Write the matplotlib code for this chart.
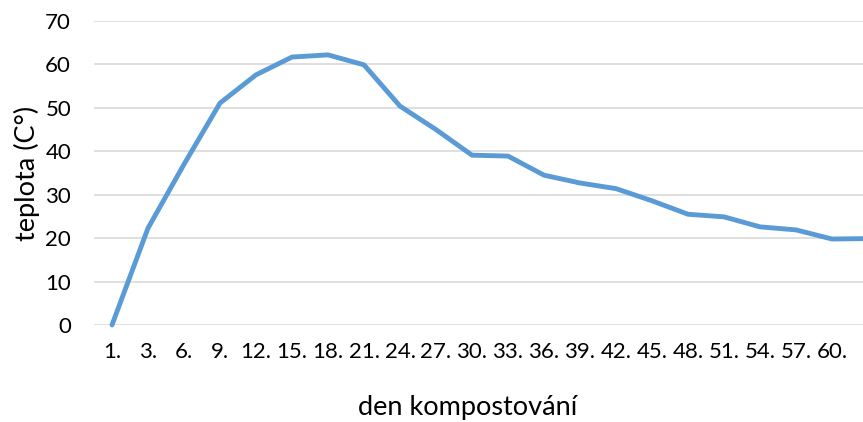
import matplotlib
import matplotlib.pyplot as plt

matplotlib.use("Agg")

# den kompostování (63. je v obrázku oříznutý, popisek se nevejde)
days = ["1.", "3.", "6.", "9.", "12.", "15.", "18.", "21.", "24.", "27.", "30.",
        "33.", "36.", "39.", "42.", "45.", "48.", "51.", "54.", "57.", "60.", ""]
temps = [0, 22.3, 37, 51.1, 57.6, 61.7, 62.2, 59.9, 50.4, 45, 39.1,
         38.9, 34.5, 32.7, 31.4, 28.6, 25.5, 24.9, 22.6, 21.9, 19.8, 19.9]
y_ticks = [0, 10, 20, 30, 40, 50, 60, 70]

plt.rcParams["font.family"] = ["Lato", "DejaVu Sans"]
fig = plt.figure(figsize=(8.63, 4.22), dpi=100)
W, H = 863, 422
ax = fig.add_axes([94 / W, (H - 325) / H, 792 / W, 304 / H])

x = list(range(len(days)))
ax.plot(x, temps, color="#5B9BD5", linewidth=3.5, solid_joinstyle="round",
        solid_capstyle="round", zorder=3, clip_on=False)

ax.set_xlim(-0.5, len(days) - 0.5)
ax.set_ylim(0, 70)
ax.set_yticks(y_ticks)
ax.set_xticks(x)
ax.set_xticklabels(days)
ax.grid(axis="y", color="#D9D9D9", linewidth=1.2)
ax.set_axisbelow(True)
for s in ax.spines.values():
    s.set_visible(False)
ax.tick_params(length=0, labelsize=16, colors="#000000")
ax.tick_params(axis="y", pad=16.5)
ax.tick_params(axis="x", pad=12.5)

fig.text(27 / W, 1 - 173 / H, "teplota (C°)", rotation=90, fontsize=19.5,
         ha="center", va="center")
fig.text(468 / W, 1 - 408 / H, "den kompostování", fontsize=19.5,
         ha="center", va="center")

fig.savefig("out.png", dpi=100)
